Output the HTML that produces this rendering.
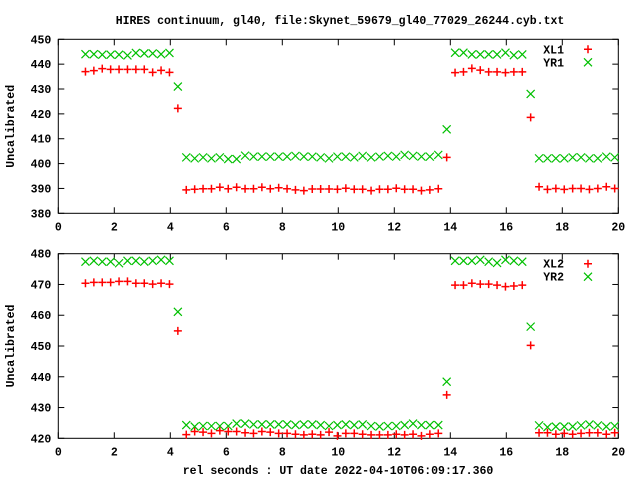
<!DOCTYPE html>
<html><head><meta charset="utf-8"><style>
body{margin:0;background:#fff}
svg text{font-family:"Liberation Mono",monospace;font-weight:bold;font-size:11.5px;fill:#000}
</style></head><body>
<svg id="chart" width="640" height="480" viewBox="0 0 640 480" xmlns="http://www.w3.org/2000/svg">
<rect width="640" height="480" fill="#fff"/>
<text x="340" y="24" text-anchor="middle">HIRES continuum, gl40, file:Skynet_59679_gl40_77029_26244.cyb.txt</text>
<text x="338" y="474" text-anchor="middle">rel seconds : UT date 2022-04-10T06:09:17.360</text>
<g id="g"></g>
</svg>
<script>
const xTicks=[0,2,4,6,8,10,12,14,16,18,20];
const yTicksTop=[380,390,400,410,420,430,440,450];
const yTicksBot=[420,430,440,450,460,470,480];
const tStart=0.97, tStep=0.3;
const xl1=[437.0,437.4,438.2,437.9,437.9,437.9,437.9,437.9,436.7,437.5,436.7,
422.2,
389.4,389.7,389.9,389.9,390.5,389.9,390.5,389.9,389.9,390.5,389.9,390.3,389.9,389.4,389.1,389.8,389.8,389.8,389.7,390.1,389.7,389.7,389.1,389.7,389.7,390.1,389.7,389.7,389.1,389.4,389.9,
402.5,
436.6,436.9,438.3,437.6,436.9,436.9,436.6,436.9,436.9,
418.6,
390.7,389.6,390.0,389.6,390.0,390.0,389.6,390.0,390.7,390.0];
const yr1=[444.0,444.0,443.8,443.8,443.8,443.5,444.5,444.3,444.3,444.0,444.5,
431.0,
402.5,402.1,402.5,402.1,402.5,401.8,401.8,403.2,402.8,402.8,402.8,402.8,402.8,403.1,402.8,402.8,402.5,402.1,402.8,402.8,402.5,403.1,402.5,402.8,403.1,402.8,403.5,403.1,402.8,402.8,403.5,
413.8,
444.6,444.6,443.9,443.9,443.9,443.9,444.6,443.6,443.9,
428.0,
402.1,402.1,402.1,402.1,402.5,402.5,402.1,402.1,402.8,402.5];
const xl2=[470.4,470.7,470.7,470.7,471.0,471.0,470.4,470.4,470.1,470.4,470.1,
454.9,
421.2,422.2,422.0,421.6,422.5,422.2,422.2,421.8,421.6,422.2,422.0,421.6,421.6,421.3,421.1,421.3,421.1,422.0,420.8,421.6,421.6,421.3,421.1,421.1,421.1,421.3,421.1,421.3,420.8,421.3,421.6,
434.1,
469.8,469.8,470.4,470.1,470.1,469.8,469.3,469.5,469.8,
450.2,
421.8,421.8,421.3,421.6,421.3,421.6,421.8,421.8,421.3,421.8];
const yr2=[477.4,477.7,477.4,477.4,476.9,477.7,477.7,477.4,477.7,478.0,477.7,
461.1,
424.3,423.8,424.0,424.0,424.0,424.0,424.8,424.8,424.5,424.5,424.5,424.5,424.5,424.3,424.5,424.5,424.3,424.0,424.3,424.5,424.3,424.5,424.0,423.8,424.0,424.0,424.3,424.8,424.3,424.3,424.3,
438.4,
477.7,477.7,477.7,478.0,477.4,477.0,478.0,477.7,477.4,
456.3,
424.2,423.6,423.8,423.8,423.8,424.2,424.5,424.2,423.8,424.0];
const NS='http://www.w3.org/2000/svg';
const root=document.getElementById('g');
function mk(tag,attrs,parent){const e=document.createElementNS(NS,tag);for(const k in attrs)e.setAttribute(k,attrs[k]);(parent||root).appendChild(e);return e;}
const X0=58.3,X1=618.3;
function xs(v){return X0+(v-0)/(20-0)*(X1-X0);}
function panel(name,top,bot,ymin,ymax,yTicks,sA,sB,labA,labB){
  const grp=mk('g',{});
  
  
  const ys=v=>bot-(v-ymin)/(ymax-ymin)*(bot-top);
  const frame=mk('rect',{x:X0,y:top,width:X1-X0,height:bot-top,fill:'none',stroke:'#000','stroke-width':1},grp);
  
  
  xTicks.forEach(t=>{const x=xs(t);
    mk('line',{x1:x,x2:x,y1:bot,y2:bot-6,stroke:'#000'},grp);
    mk('line',{x1:x,x2:x,y1:top,y2:top+6,stroke:'#000'},grp);
    const tx=mk('text',{x:x,y:bot+17,'text-anchor':'middle'},grp);tx.textContent=t;
    
    
  });
  yTicks.forEach(t=>{const y=ys(t);
    mk('line',{x1:X0,x2:X0+6,y1:y,y2:y,stroke:'#000'},grp);
    mk('line',{x1:X1,x2:X1-6,y1:y,y2:y,stroke:'#000'},grp);
    const tx=mk('text',{x:X0-7,y:y+4,'text-anchor':'end'},grp);tx.textContent=t;
    
    
  });
  const yl=mk('text',{x:0,y:0,'text-anchor':'middle',transform:`translate(14,${(top+bot)/2}) rotate(-90)`},grp);
  yl.textContent='Uncalibrated';
  
  
  const plus=(x,y,g)=>{const p=mk('path',{d:`M${x-4},${y}H${x+4}M${x},${y-4}V${y+4}`,stroke:'#f00','stroke-width':1.5,fill:'none'},g);return p;};
  const cross=(x,y,g)=>{const p=mk('path',{d:`M${x-4},${y-4}L${x+4},${y+4}M${x-4},${y+4}L${x+4},${y-4}`,stroke:'#00c000','stroke-width':1.2,fill:'none'},g);return p;};
  const gA=mk('g',{},grp);
  const gB=mk('g',{},grp);
  sA.forEach((v,i)=>{const p=plus(xs(tStart+i*tStep),ys(v),gA);
    
    });
  sB.forEach((v,i)=>{const p=cross(xs(tStart+i*tStep),ys(v),gB);
    
    });
  const lg=mk('g',{},grp);
  
  
  const t1=mk('text',{x:564,y:top+14,'text-anchor':'end'},lg);t1.textContent=labA;
  
  
  plus(588,top+10,lg);
  const t2=mk('text',{x:564,y:top+27,'text-anchor':'end'},lg);t2.textContent=labB;
  
  
  cross(588,top+23,lg);
}
panel('top-panel',39.3,213.3,380,450,yTicksTop,xl1,yr1,'XL1','YR1');
panel('bottom-panel',253.7,438.3,420,480,yTicksBot,xl2,yr2,'XL2','YR2');
</script>
</body></html>
